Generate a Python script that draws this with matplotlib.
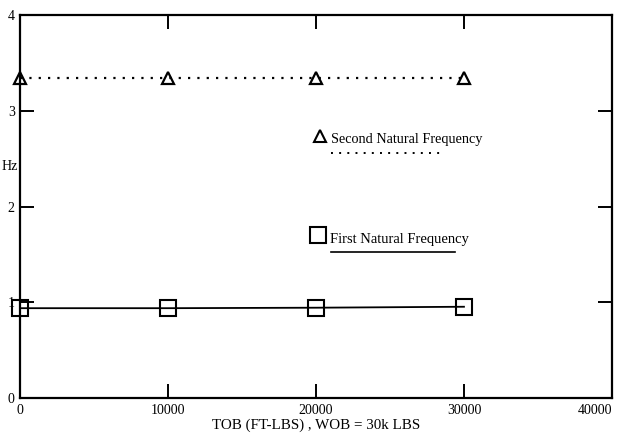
import matplotlib
matplotlib.use('Agg')
import matplotlib.pyplot as plt

plt.rcParams['font.family'] = ['Liberation Serif', 'DejaVu Serif']

tob = [0, 10000, 20000, 30000]
second_freq = [3.34, 3.34, 3.34, 3.34]
first_freq = [0.94, 0.94, 0.945, 0.955]

fig = plt.figure(figsize=(6.18, 4.42), dpi=100)
ax = fig.add_axes([0.033, 0.099, 0.957, 0.867])

ax.plot(tob, second_freq, color='black', linestyle=(0, (1, 3.2)), linewidth=1.6,
        marker='^', markersize=9, markerfacecolor='none', markeredgewidth=1.6, clip_on=False)
ax.plot(tob, first_freq, color='black', linestyle='-', linewidth=1.3,
        marker='s', markersize=12, markerfacecolor='none', markeredgewidth=1.5, clip_on=False)

# legend drawn by hand, like the original
ax.plot([20270], [2.74], marker='^', markersize=8, markerfacecolor='none',
        markeredgewidth=1.5, color='black')
ax.text(21000, 2.70, 'Second Natural Frequency', fontsize=10.3, va='center', ha='left')
ax.plot([21000, 28700], [2.56, 2.56], color='black', linestyle=(0, (1, 3.2)), linewidth=1.4)
ax.plot([20135], [1.70], marker='s', markersize=11, markerfacecolor='none',
        markeredgewidth=1.5, color='black')
ax.text(20950, 1.66, 'First Natural Frequency', fontsize=10.5, va='center', ha='left')
ax.plot([21000, 29400], [1.53, 1.53], color='black', linewidth=1.2)

ax.set_xlim(0, 40000)
ax.set_ylim(0, 4)
ax.set_xticks([0, 10000, 20000, 30000, 40000])
ax.set_yticks([0, 1, 2, 3, 4])
ax.tick_params(direction='in', length=10, width=1.4, top=True, right=True,
               labelsize=10, pad=4)
ax.get_xticklabels()[-1].set_horizontalalignment('right')
for side in ax.spines.values():
    side.set_linewidth(1.6)

ax.set_xlabel('TOB (FT-LBS) , WOB = 30k LBS', fontsize=10.8, labelpad=1)
fig.text(0.002, (442 - 167) / 442, 'Hz', fontsize=10, ha='left', va='center')

fig.savefig('out.png', dpi=100)
